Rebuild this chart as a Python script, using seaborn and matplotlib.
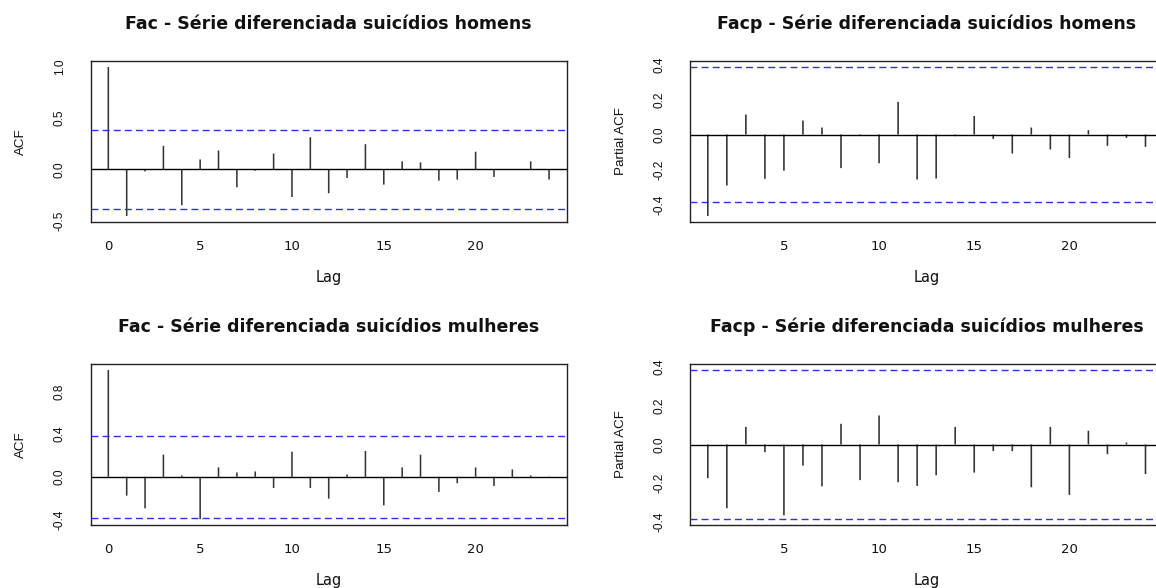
import numpy as np
import pandas as pd
import matplotlib
matplotlib.use("Agg")
import matplotlib.pyplot as plt
import seaborn as sns

# ---- data ----
lags_acf = list(range(0, 25))
lags_pacf = list(range(1, 25))

acf_homens = [1.0, -0.456, -0.02, 0.23, -0.35, 0.097, 0.184, -0.175, -0.013, 0.155,
              -0.27, 0.314, -0.233, -0.084, 0.246, -0.149, 0.078, 0.068, -0.11, -0.10,
              0.172, -0.074, 0.004, 0.078, -0.10]
pacf_homens = [-0.464, -0.29, 0.114, -0.252, -0.206, 0.080, 0.040, -0.191, -0.004, -0.163,
               0.186, -0.256, -0.25, -0.009, 0.106, -0.025, -0.108, 0.040, -0.085, -0.134,
               0.025, -0.064, -0.019, -0.070]
acf_mulheres = [1.0, -0.176, -0.295, 0.207, 0.013, -0.395, 0.088, 0.041, 0.05, -0.104,
                0.235, -0.104, -0.204, 0.022, 0.242, -0.267, 0.088, 0.207, -0.141, -0.06,
                0.088, -0.085, 0.069, 0.013, 0.002]
pacf_mulheres = [-0.174, -0.329, 0.091, -0.040, -0.366, -0.109, -0.216, 0.107, -0.184, 0.150,
                 -0.195, -0.214, -0.159, 0.091, -0.145, -0.034, -0.034, -0.221, 0.091, -0.26,
                 0.071, -0.05, 0.010, -0.153]
conf_limit = 0.385

titles = ["Fac - Série diferenciada suicídios homens",
          "Facp - Série diferenciada suicídios homens",
          "Fac - Série diferenciada suicídios mulheres",
          "Facp - Série diferenciada suicídios mulheres"]
ylabels = ["ACF", "Partial ACF", "ACF", "Partial ACF"]
xticks_acf = [0, 5, 10, 15, 20]
xticks_pacf = [5, 10, 15, 20]
yticks_1 = [-0.5, 0.0, 0.5, 1.0]
yticks_2 = [-0.4, -0.2, 0.0, 0.2, 0.4]
yticks_3 = [-0.4, -0.2, 0.0, 0.2, 0.4, 0.6, 0.8, 1.0]
ylabels_3 = ["-0.4", "", "0.0", "", "0.4", "", "0.8", ""]
yticks_4 = [-0.4, -0.2, 0.0, 0.2, 0.4]

sns.set_style("white")
plt.rcParams["font.family"] = ["DejaVu Sans"]
plt.rcParams["axes.unicode_minus"] = False

W, H = 1156, 588
fig = plt.figure(figsize=(W / 100, H / 100), dpi=100)


def px_axes(l, r, t, b):
    return fig.add_axes([l / W, 1 - b / H, (r - l) / W, (b - t) / H])


axes = [px_axes(90.7, 566.7, 61, 222), px_axes(690.3, 1163, 61, 222),
        px_axes(90.7, 566.7, 364, 525), px_axes(690.3, 1163, 364, 525)]

panels = [
    (lags_acf, acf_homens, xticks_acf, yticks_1, [f"{v:.1f}" for v in yticks_1]),
    (lags_pacf, pacf_homens, xticks_pacf, yticks_2, [f"{v:.1f}" for v in yticks_2]),
    (lags_acf, acf_mulheres, xticks_acf, yticks_3, ylabels_3),
    (lags_pacf, pacf_mulheres, xticks_pacf, yticks_4, [f"{v:.1f}" for v in yticks_4]),
]

rot_font = ["Liberation Sans", "DejaVu Sans"]

for ax, (lags, vals, xt, yt, ytl), title, ylab in zip(axes, panels, titles, ylabels):
    df = pd.DataFrame({"lag": lags, "value": vals})
    sns.barplot(data=df, x="lag", y="value", native_scale=True, width=0.085,
                color="#333333", linewidth=0,
                errorbar=None, ax=ax, saturation=1)
    for p in ax.patches:
        p.set_snap(False)
        p.set_antialiased(True)
    ax.axhline(0, color="black", lw=1.0, zorder=3)
    for c in (conf_limit, -conf_limit):
        ax.axhline(c, color="#2f2fee", lw=1.0, dashes=(5, 3), zorder=3)
    lo = min(-conf_limit, min(vals))
    hi = max(conf_limit, max(vals))
    ext = 0.04 * (hi - lo)
    ax.set_ylim(lo - ext, hi + ext)
    x0, x1 = lags[0], lags[-1]
    xe = 0.04 * (x1 - x0)
    ax.set_xlim(x0 - xe, x1 + xe)
    ax.set_xticks(xt)
    ax.set_xticklabels([str(v) for v in xt], fontsize=9.5)
    ax.set_yticks(yt)
    ax.set_yticklabels(ytl, family=rot_font, fontsize=8.6, rotation=90, va="center")
    ax.tick_params(axis="both", which="both", direction="out", length=7, width=1,
                   colors="#222222", labelcolor="#111111")
    ax.tick_params(axis="x", pad=6)
    ax.tick_params(axis="y", length=10, pad=8)
    for s in ax.spines.values():
        s.set_visible(True)
        s.set_color("#222222")
        s.set_linewidth(1.0)
    ax.set_xlabel("Lag", fontsize=10.5, labelpad=12, color="#111111")
    ax.set_ylabel(ylab, family=rot_font, fontsize=9.6, labelpad=19, color="#111111")
    ax.set_title(title, fontsize=12.5, fontweight="bold", pad=23, color="#111111")

fig.savefig("out.png", dpi=100)
